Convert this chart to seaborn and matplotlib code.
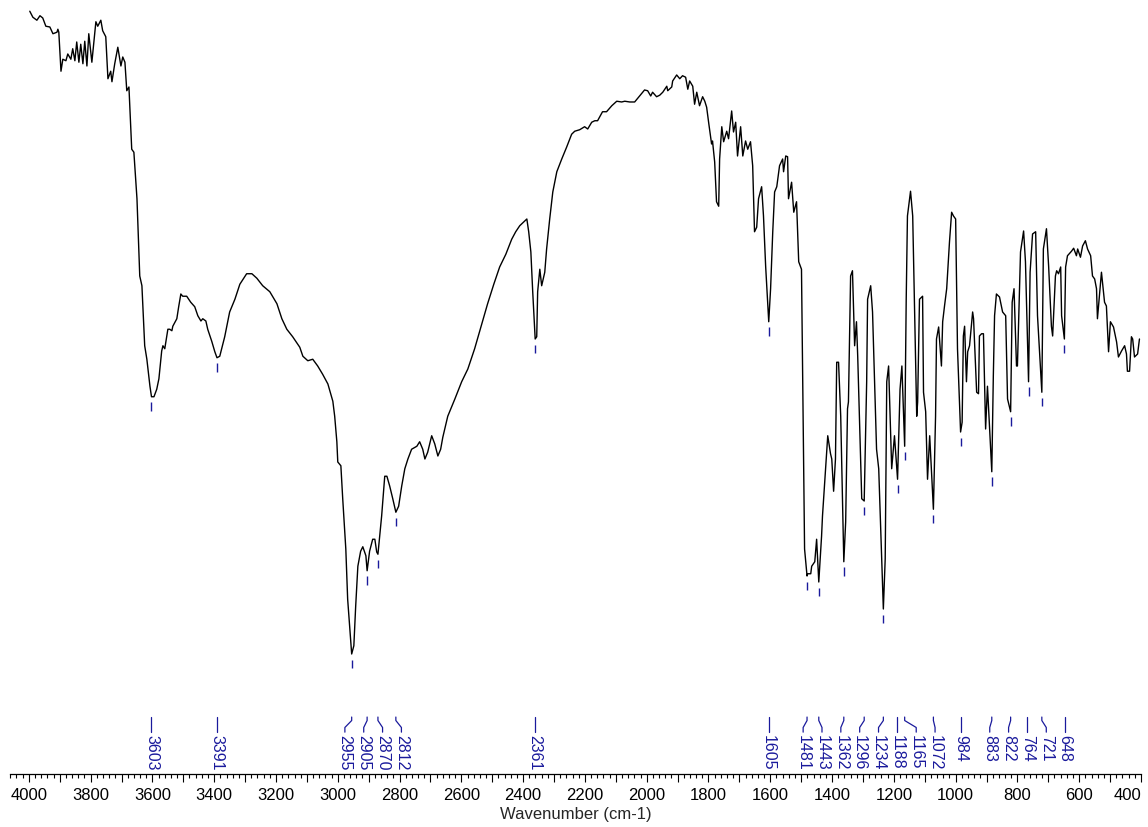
import numpy as np
import matplotlib
matplotlib.use("Agg")
import matplotlib.pyplot as plt
from matplotlib.ticker import MultipleLocator, FuncFormatter
import matplotlib.transforms as mtransforms
import seaborn as sns

# IR spectrum: wavenumber (cm-1) and transmittance (%)
wavenumber = [
    3997, 3987, 3974, 3964, 3955, 3945, 3932, 3922, 3909, 3906, 3903, 3896, 3890, 3880, 3874, 3864,
    3858, 3851, 3845, 3838, 3832, 3825, 3819, 3812, 3806, 3796, 3783, 3777, 3767, 3761, 3751, 3744,
    3735, 3731, 3722, 3712, 3702, 3696, 3689, 3683, 3676, 3667, 3660, 3650, 3644, 3641, 3634, 3625,
    3618, 3608, 3603, 3595, 3586, 3579, 3570, 3566, 3560, 3550, 3544, 3537, 3534, 3521, 3515, 3508,
    3502, 3489, 3476, 3463, 3453, 3443, 3437, 3427, 3421, 3408, 3398, 3391, 3382, 3366, 3350, 3333,
    3317, 3295, 3278, 3262, 3243, 3220, 3197, 3181, 3165, 3146, 3123, 3113, 3097, 3081, 3065, 3049,
    3032, 3016, 3010, 3003, 3000, 2990, 2984, 2974, 2968, 2958, 2955, 2948, 2942, 2935, 2926, 2919,
    2909, 2905, 2897, 2887, 2880, 2874, 2870, 2858, 2848, 2841, 2832, 2822, 2812, 2803, 2793, 2783,
    2773, 2761, 2744, 2735, 2725, 2718, 2709, 2696, 2686, 2676, 2667, 2660, 2644, 2621, 2599, 2579,
    2557, 2534, 2515, 2495, 2476, 2456, 2437, 2424, 2411, 2388, 2382, 2375, 2369, 2361, 2356, 2353,
    2346, 2340, 2330, 2324, 2314, 2304, 2291, 2275, 2259, 2243, 2233, 2217, 2201, 2191, 2178, 2168,
    2159, 2143, 2130, 2113, 2097, 2081, 2071, 2055, 2039, 2023, 2007, 1997, 1987, 1981, 1968, 1958,
    1948, 1935, 1932, 1919, 1916, 1903, 1893, 1884, 1874, 1867, 1861, 1851, 1845, 1838, 1829, 1819,
    1812, 1806, 1799, 1790, 1787, 1780, 1774, 1767, 1764, 1757, 1751, 1741, 1735, 1725, 1719, 1712,
    1706, 1696, 1689, 1680, 1673, 1664, 1657, 1651, 1644, 1638, 1628, 1622, 1615, 1605, 1599, 1592,
    1586, 1579, 1570, 1560, 1557, 1550, 1544, 1541, 1531, 1524, 1515, 1508, 1499, 1495, 1489, 1481,
    1479, 1469, 1466, 1456, 1450, 1443, 1434, 1431, 1414, 1405, 1401, 1395, 1389, 1385, 1379, 1372,
    1362, 1356, 1350, 1347, 1340, 1334, 1327, 1321, 1317, 1304, 1296, 1288, 1285, 1275, 1269, 1256,
    1249, 1234, 1228, 1223, 1217, 1207, 1198, 1188, 1180, 1174, 1165, 1160, 1156, 1146, 1139, 1133,
    1126, 1123, 1117, 1107, 1104, 1097, 1091, 1084, 1072, 1065, 1062, 1055, 1046, 1042, 1036, 1029,
    1020, 1013, 1007, 1000, 994, 984, 979, 975, 971, 965, 961, 955, 945, 942, 932, 926,
    923, 916, 910, 903, 897, 883, 878, 874, 868, 858, 848, 838, 832, 822, 817, 811,
    803, 800, 790, 780, 774, 764, 759, 751, 741, 735, 721, 716, 706, 699, 690, 686,
    677, 673, 667, 660, 657, 648, 644, 638, 625, 618, 609, 605, 596, 589, 580, 573,
    563, 557, 550, 544, 541, 531, 528, 518, 512, 505, 499, 489, 479, 473, 463, 453,
    447, 444, 437, 431, 427, 421, 411, 405,
]
transmittance = [
    99.7, 98.9, 98.5, 99.1, 98.8, 97.7, 97.6, 96.7, 96.9, 97.3, 96.9, 91.7, 93.3, 93.1, 94.0, 93.3,
    94.7, 93.1, 95.6, 92.9, 95.3, 92.7, 95.7, 92.4, 96.7, 92.9, 98.3, 97.7, 98.5, 97.1, 96.3, 90.7,
    91.7, 90.3, 92.7, 94.9, 92.4, 93.6, 92.9, 89.1, 89.6, 81.3, 80.9, 74.7, 68.0, 64.4, 63.1, 55.1,
    53.3, 49.7, 48.3, 48.3, 49.3, 50.7, 54.4, 55.1, 54.7, 57.3, 57.3, 57.1, 57.7, 58.7, 60.3, 62.0,
    61.7, 61.7, 60.9, 60.3, 59.1, 58.4, 58.7, 58.4, 57.3, 55.7, 54.3, 53.5, 53.7, 56.3, 59.6, 61.3,
    63.3, 64.7, 64.7, 64.1, 63.1, 62.3, 60.7, 58.7, 57.3, 56.3, 54.9, 53.7, 53.1, 53.3, 52.4, 51.3,
    50.0, 47.7, 45.7, 42.3, 39.6, 39.1, 34.7, 28.0, 21.3, 15.6, 14.0, 15.1, 20.4, 25.7, 27.7, 28.3,
    27.1, 25.1, 27.7, 29.3, 29.3, 27.6, 27.3, 32.4, 37.7, 37.7, 36.4, 34.7, 32.9, 33.7, 36.4, 38.7,
    40.0, 41.3, 41.7, 42.3, 41.3, 40.0, 40.9, 43.1, 42.0, 40.4, 41.3, 42.9, 45.7, 48.0, 50.3, 52.0,
    54.7, 58.0, 60.7, 63.3, 65.6, 67.3, 69.3, 70.3, 71.1, 72.0, 70.3, 67.6, 62.3, 56.0, 56.3, 62.3,
    65.3, 63.1, 64.9, 68.0, 72.0, 75.6, 78.3, 80.0, 81.6, 83.3, 83.7, 83.9, 84.3, 84.0, 84.9, 85.1,
    85.1, 86.3, 86.3, 87.1, 87.7, 87.6, 87.7, 87.6, 87.6, 88.4, 89.2, 89.1, 88.4, 88.9, 88.3, 88.5,
    88.9, 89.7, 89.1, 89.6, 90.4, 91.2, 90.7, 91.1, 90.9, 89.3, 90.4, 89.7, 87.3, 88.9, 87.1, 88.3,
    87.7, 86.9, 84.7, 82.0, 82.4, 79.6, 74.3, 73.7, 80.0, 84.3, 82.3, 83.7, 82.7, 86.4, 83.6, 84.9,
    80.4, 84.3, 80.4, 82.4, 81.3, 82.3, 79.1, 70.3, 70.9, 74.7, 76.3, 72.4, 65.7, 58.3, 62.7, 70.3,
    75.6, 76.3, 79.1, 80.0, 78.3, 80.4, 80.3, 74.7, 76.9, 72.9, 74.3, 66.3, 65.3, 50.3, 28.0, 24.4,
    24.7, 24.7, 25.7, 26.3, 29.3, 23.6, 29.7, 32.4, 43.1, 40.7, 40.0, 35.7, 40.0, 52.9, 52.9, 45.7,
    26.3, 31.6, 46.7, 47.6, 64.4, 65.1, 55.1, 58.3, 53.7, 34.7, 34.4, 50.3, 61.3, 63.1, 59.6, 41.3,
    38.7, 20.0, 26.7, 50.3, 52.4, 38.7, 43.1, 37.3, 49.3, 52.4, 41.7, 61.3, 72.4, 75.7, 72.4, 60.0,
    45.7, 47.6, 61.3, 61.7, 48.9, 46.3, 37.3, 43.1, 33.3, 45.7, 56.0, 57.6, 52.4, 58.3, 60.4, 62.7,
    68.9, 72.9, 72.4, 72.0, 54.7, 43.6, 44.9, 56.4, 57.7, 50.3, 54.3, 55.1, 59.6, 58.7, 48.9, 48.7,
    56.4, 56.7, 56.7, 44.0, 49.7, 38.3, 51.1, 59.1, 62.0, 61.6, 59.6, 59.1, 48.0, 46.3, 60.9, 62.7,
    52.4, 52.4, 67.6, 70.4, 66.3, 50.3, 64.9, 70.0, 70.3, 59.1, 48.9, 68.0, 70.7, 65.7, 57.7, 56.4,
    64.4, 65.1, 64.7, 65.6, 59.1, 56.0, 65.6, 67.1, 67.7, 68.1, 67.1, 68.0, 66.9, 68.4, 69.1, 68.0,
    67.1, 64.4, 64.0, 62.7, 58.7, 63.6, 64.9, 60.9, 60.4, 54.3, 58.3, 57.6, 55.6, 53.6, 54.4, 55.1,
    54.0, 51.7, 51.7, 56.3, 56.0, 53.6, 54.0, 56.0,
]

# Picked absorption bands (cm-1)
peaks = [3603, 3391, 2955, 2905, 2870, 2812, 2361, 1605, 1481, 1443, 1362, 1296,
         1234, 1188, 1165, 1072, 984, 883, 822, 764, 721, 648]

x_ticks_major = 100
x_ticks_minor = 20
x_label_step = 200

PEAK_COLOR = "#1a1a9c"

sns.set_style("white")
plt.rcParams["font.family"] = ["Liberation Sans", "DejaVu Sans"]

fig = plt.figure(figsize=(11.48, 8.28), dpi=100)
ax = fig.add_axes([10 / 1148, 53 / 828, 1131 / 1148, 775 / 828])

sns.lineplot(x=wavenumber, y=transmittance, sort=False, estimator=None,
             color="black", linewidth=1.0, ax=ax)

ax.set_xlim(4061, 400)
ax.set_ylim(-2.0, 101.33)

# Axis styling: only the bottom wavenumber axis is shown
for side in ("top", "left", "right"):
    ax.spines[side].set_visible(False)
ax.spines["bottom"].set_linewidth(0.9)
ax.spines["bottom"].set_color("black")
ax.set_yticks([])
ax.xaxis.set_major_locator(MultipleLocator(x_ticks_major))
ax.xaxis.set_minor_locator(MultipleLocator(x_ticks_minor))
ax.xaxis.set_major_formatter(
    FuncFormatter(lambda v, _: f"{int(round(v))}" if int(round(v)) % x_label_step == 0 else ""))
ax.tick_params(axis="x", which="major", direction="out", length=6, width=0.8,
               labelsize=12, pad=3.5, colors="black", bottom=True)
ax.tick_params(axis="x", which="minor", direction="out", length=3.2, width=0.8,
               colors="black", bottom=True)
ax.set_xlabel("Wavenumber (cm-1)", fontsize=12, labelpad=3)

# Peak markers under each band minimum
w_arr = np.array(wavenumber, dtype=float)
t_arr = np.array(transmittance, dtype=float)
peak_t = np.interp(peaks, w_arr[::-1], t_arr[::-1])
ax.vlines(peaks, peak_t - 0.75, peak_t - 1.85, color=PEAK_COLOR, linewidth=1.0)

# Spread the peak labels so neighbouring labels do not overlap
min_gap = 61.0
order = np.argsort(peaks)[::-1]
pos = np.array(peaks, dtype=float)[order]
for _ in range(500):
    moved = False
    for i in range(len(pos) - 1):
        gap = pos[i] - pos[i + 1]
        if gap < min_gap:
            push = (min_gap - gap) / 2
            pos[i] += push
            pos[i + 1] -= push
            moved = True
    if not moved:
        break
label_pos = np.empty(len(peaks))
label_pos[order] = pos

trans = mtransforms.blended_transform_factory(ax.transData, ax.transAxes)
y_top, y_bend1, y_bend2, y_text = 0.0735, 0.0690, 0.0600, 0.0540
for pk, lp in zip(peaks, label_pos):
    if abs(lp - pk) < 4:
        ax.plot([lp, lp], [y_top, y_text], transform=trans, color=PEAK_COLOR,
                linewidth=0.9, clip_on=False)
    else:
        ax.plot([pk, pk, lp, lp], [y_top, y_bend1, y_bend2, y_text], transform=trans,
                color=PEAK_COLOR, linewidth=0.9, clip_on=False)
    ax.text(lp, y_text - 0.002, f"{pk}", transform=trans, rotation=-90,
            ha="center", va="top", fontsize=11.5, color=PEAK_COLOR, clip_on=False)

fig.canvas.draw()
for lab in ax.get_xticklabels():
    if lab.get_text() == "400":
        lab.set_horizontalalignment("right")

fig.savefig("out.png", dpi=100)
